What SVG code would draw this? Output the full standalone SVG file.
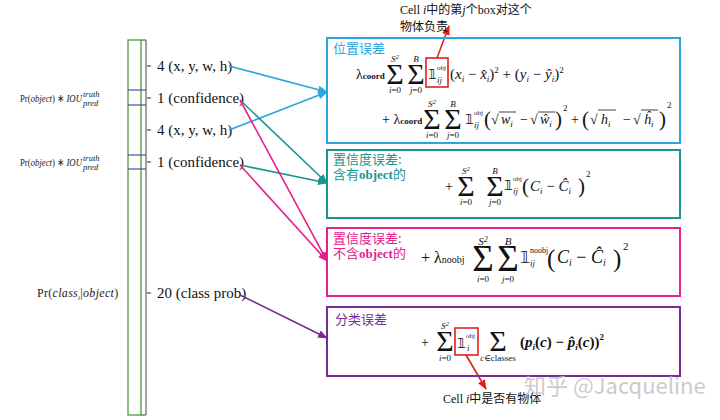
<svg xmlns="http://www.w3.org/2000/svg" width="720" height="420" viewBox="0 0 720 420">
<defs>
<marker id="mc" markerWidth="10" markerHeight="8" refX="9" refY="4" orient="auto" markerUnits="userSpaceOnUse"><path d="M0,0 L10,4 L0,8 Z" fill="#2aa6dc"/></marker>
<marker id="mt" markerWidth="10" markerHeight="8" refX="9" refY="4" orient="auto" markerUnits="userSpaceOnUse"><path d="M0,0 L10,4 L0,8 Z" fill="#1a9590"/></marker>
<marker id="mm" markerWidth="10" markerHeight="8" refX="9" refY="4" orient="auto" markerUnits="userSpaceOnUse"><path d="M0,0 L10,4 L0,8 Z" fill="#e5208e"/></marker>
<marker id="mp" markerWidth="10" markerHeight="8" refX="9" refY="4" orient="auto" markerUnits="userSpaceOnUse"><path d="M0,0 L10,4 L0,8 Z" fill="#7a2a94"/></marker>
<marker id="mr" markerWidth="10" markerHeight="8" refX="9" refY="4" orient="auto" markerUnits="userSpaceOnUse"><path d="M0,0 L10,4 L0,8 Z" fill="#e0201e"/></marker>
</defs>
<style>
.lbl{font-family:"Liberation Serif",serif;font-size:15px;fill:#111}
.left{font-family:"Liberation Serif",serif;font-size:11px;fill:#222}
.m{font-family:"Liberation Serif","DejaVu Serif",serif;font-size:14px;fill:#111}
.it{font-style:italic}
.sm{font-size:9px}
.xs{font-size:7px}
.sig{font-family:"Liberation Serif",serif;font-size:30px;fill:#111}
.one{font-family:"DejaVu Sans",sans-serif;font-size:14px;fill:#111}
.cjk{font-family:"Liberation Serif","Noto Sans CJK SC",serif;font-size:12px;fill:#111}
.title{font-family:"Noto Sans CJK SC",sans-serif;font-size:13px}
.box{fill:none;stroke-width:2}
.conn{fill:none;stroke-width:1.6}
.red{fill:none;stroke:#e0201e;stroke-width:1.6}
.bar{stroke:#111;stroke-width:0.8}
</style>

<g id="column">
<rect x="128" y="40" width="13" height="375" fill="none" stroke="#4f9a3a" stroke-width="1.3"/>
<polyline points="141,40 146,40 146,415 141,415" fill="none" stroke="#444" stroke-width="1"/>
<line x1="128" y1="90" x2="146" y2="90" stroke="#3a4fb0" stroke-width="1.2"/>
<line x1="128" y1="105" x2="146" y2="105" stroke="#3a4fb0" stroke-width="1.2"/>
<line x1="128" y1="155" x2="146" y2="155" stroke="#3a4fb0" stroke-width="1.2"/>
<line x1="128" y1="169" x2="146" y2="169" stroke="#3a4fb0" stroke-width="1.2"/>
<g stroke="#222" stroke-width="1">
<line x1="147" y1="66" x2="151" y2="66"/><line x1="147" y1="98" x2="151" y2="98"/><line x1="147" y1="130" x2="151" y2="130"/><line x1="147" y1="162" x2="151" y2="162"/><line x1="147" y1="293" x2="151" y2="293"/>
</g>
</g>

<g id="labels">
<text class="lbl" x="157" y="71">4 (x, y, w, h)</text>
<text class="lbl" x="157" y="103">1 (confidence)</text>
<text class="lbl" x="157" y="135">4 (x, y, w, h)</text>
<text class="lbl" x="157" y="167">1 (confidence)</text>
<text class="lbl" x="157" y="298">20 (class prob)</text>
<text class="left" x="20" y="102" textLength="62" lengthAdjust="spacingAndGlyphs">Pr(<tspan class="it">object</tspan>) ∗ <tspan class="it">IOU</tspan></text>
<text class="left it" x="83" y="97" style="font-size:8.5px">truth</text>
<text class="left it" x="83" y="106" style="font-size:8.5px">pred</text>
<text class="left" x="20" y="166" textLength="62" lengthAdjust="spacingAndGlyphs">Pr(<tspan class="it">object</tspan>) ∗ <tspan class="it">IOU</tspan></text>
<text class="left it" x="83" y="161" style="font-size:8.5px">truth</text>
<text class="left it" x="83" y="170" style="font-size:8.5px">pred</text>
<text class="left" x="37" y="297" style="font-size:12px" letter-spacing="0.3">Pr(<tspan class="it">class</tspan><tspan class="it" font-size="7" dy="3">i</tspan><tspan dy="-3">|</tspan><tspan class="it">object</tspan>)</text>
</g>

<g id="connectors">
<line class="conn" stroke="#2aa6dc" x1="229" y1="66" x2="327" y2="92" marker-end="url(#mc)"/>
<line class="conn" stroke="#2aa6dc" x1="229" y1="130" x2="327" y2="92" marker-end="url(#mc)"/>
<line class="conn" stroke="#1a9590" x1="240" y1="100" x2="327" y2="183" marker-end="url(#mt)"/>
<line class="conn" stroke="#1a9590" x1="240" y1="165" x2="327" y2="183" marker-end="url(#mt)"/>
<line class="conn" stroke="#e5208e" x1="240" y1="100" x2="327" y2="261" marker-end="url(#mm)"/>
<line class="conn" stroke="#e5208e" x1="240" y1="165" x2="327" y2="261" marker-end="url(#mm)"/>
<line class="conn" stroke="#7a2a94" x1="240" y1="295" x2="327" y2="338" marker-end="url(#mp)"/>
<line class="red" x1="437" y1="58" x2="449" y2="26" marker-end="url(#mr)"/>
<line class="red" x1="466" y1="355" x2="486" y2="389" marker-end="url(#mr)"/>
</g>

<g id="box-location">
<rect class="box" x="327" y="38" width="353" height="105" stroke="#2aa6dc"/>
<text class="title" x="333" y="53" fill="#2aa6dc">位置误差</text>
<text class="m" x="356" y="79">λ<tspan style="font-size:9px;font-weight:bold">coord</tspan></text>
<text class="sig" x="395" y="84" text-anchor="middle">Σ</text>
<text class="sig" x="416" y="84" text-anchor="middle">Σ</text>
<text class="m it sm" x="395" y="62" text-anchor="middle">S<tspan style="font-size:7px" dy="-3">2</tspan></text>
<text class="m it sm" x="416" y="62" text-anchor="middle">B</text>
<text class="m sm" x="395" y="93" text-anchor="middle"><tspan class="it">i</tspan>=0</text>
<text class="m sm" x="416" y="93" text-anchor="middle"><tspan class="it">j</tspan>=0</text>
<rect class="red" x="426" y="58" width="22" height="29"/>
<text class="one" x="428" y="79">𝟙</text>
<text class="m xs" x="437" y="70">obj</text>
<text class="m it sm" x="437" y="83">ij</text>
<text class="m" x="450" y="79" style="font-size:15px">(<tspan class="it">x</tspan><tspan class="sm it" dy="3">i</tspan><tspan dy="-3"> − </tspan><tspan class="it">x̂</tspan><tspan class="sm it" dy="3">i</tspan><tspan dy="-3">)</tspan><tspan class="sm" dy="-6">2</tspan><tspan dy="6"> + (</tspan><tspan class="it">y</tspan><tspan class="sm it" dy="3">i</tspan><tspan dy="-3"> − </tspan><tspan class="it">ŷ</tspan><tspan class="sm it" dy="3">i</tspan><tspan dy="-3">)</tspan><tspan class="sm" dy="-6">2</tspan></text>

<text class="m" x="382" y="124">+ λ<tspan style="font-size:9px;font-weight:bold">coord</tspan></text>
<text class="sig" x="432" y="129" text-anchor="middle">Σ</text>
<text class="sig" x="453" y="129" text-anchor="middle">Σ</text>
<text class="m it sm" x="432" y="107" text-anchor="middle">S<tspan style="font-size:7px" dy="-3">2</tspan></text>
<text class="m it sm" x="453" y="107" text-anchor="middle">B</text>
<text class="m sm" x="432" y="138" text-anchor="middle"><tspan class="it">i</tspan>=0</text>
<text class="m sm" x="453" y="138" text-anchor="middle"><tspan class="it">j</tspan>=0</text>
<text class="one" x="465" y="124">𝟙</text>
<text class="m xs" x="474" y="115">obj</text>
<text class="m it sm" x="474" y="128">ij</text>
<text class="m" x="484" y="126" style="font-size:21px">(</text>
<text class="m" x="491" y="124">√</text>
<line class="bar" x1="499" y1="112" x2="516" y2="112"/>
<text class="m it" x="501" y="124">w<tspan class="sm" dy="3">i</tspan></text>
<text class="m" x="520" y="124">−</text>
<text class="m" x="530" y="124">√</text>
<line class="bar" x1="538" y1="112" x2="555" y2="112"/>
<text class="m it" x="540" y="124">ŵ<tspan class="sm" dy="3">i</tspan></text>
<text class="m" x="555" y="126" style="font-size:21px">)</text>
<text class="m sm" x="563" y="111">2</text>
<text class="m" x="571" y="124">+</text>
<text class="m" x="582" y="126" style="font-size:21px">(</text>
<text class="m" x="590" y="124">√</text>
<line class="bar" x1="598" y1="110" x2="616" y2="110"/>
<text class="m it" x="601" y="124">h<tspan class="sm" dy="3">i</tspan></text>
<text class="m" x="623" y="124">−</text>
<text class="m" x="633" y="124">√</text>
<line class="bar" x1="641" y1="110" x2="658" y2="110"/>
<text class="m it" x="644" y="124">ĥ<tspan class="sm" dy="3">i</tspan></text>
<text class="m" x="659" y="126" style="font-size:21px">)</text>
<text class="m sm" x="667" y="108">2</text>
</g>

<g id="box-conf-obj">
<rect class="box" x="327" y="150" width="353" height="68" stroke="#1a9590"/>
<text class="title" x="333" y="164" fill="#1a9590">置信度误差:</text>
<text class="title" x="333" y="179" fill="#1a9590">含有<tspan style="font-family:'Liberation Serif',serif;font-weight:bold">object</tspan>的</text>
<text class="m" x="445" y="191">+</text>
<text class="sig" x="466" y="196" text-anchor="middle">Σ</text>
<text class="sig" x="495" y="196" text-anchor="middle">Σ</text>
<text class="m it sm" x="466" y="174" text-anchor="middle">S<tspan style="font-size:7px" dy="-3">2</tspan></text>
<text class="m it sm" x="495" y="174" text-anchor="middle">B</text>
<text class="m sm" x="466" y="205" text-anchor="middle"><tspan class="it">i</tspan>=0</text>
<text class="m sm" x="495" y="205" text-anchor="middle"><tspan class="it">j</tspan>=0</text>
<text class="one" x="504" y="190">𝟙</text>
<text class="m xs" x="513" y="181">obj</text>
<text class="m it sm" x="513" y="194">ij</text>
<text class="m" x="522" y="193" style="font-size:21px">(</text>
<text class="m" x="530" y="191" style="font-size:15px"><tspan class="it">C</tspan><tspan class="sm it" dy="3">i</tspan><tspan dy="-3"> − </tspan><tspan class="it">Ĉ</tspan><tspan class="sm it" dy="3">i</tspan></text>
<text class="m" x="578" y="193" style="font-size:21px">)</text>
<text class="m sm" x="586" y="177">2</text>
</g>

<g id="box-conf-noobj">
<rect class="box" x="327" y="228" width="353" height="68" stroke="#e5208e"/>
<text class="title" x="333" y="243" fill="#e5208e">置信度误差:</text>
<text class="title" x="333" y="258" fill="#e5208e">不含<tspan style="font-family:'Liberation Serif',serif;font-weight:bold">object</tspan>的</text>
<text class="m" x="421" y="263" style="font-size:16px">+ λ<tspan style="font-size:10px">noobj</tspan></text>
<text class="sig" x="483" y="271" text-anchor="middle" style="font-size:37px">Σ</text>
<text class="sig" x="508" y="271" text-anchor="middle" style="font-size:37px">Σ</text>
<text class="m it" x="483" y="245" text-anchor="middle" style="font-size:11px">S<tspan style="font-size:8px" dy="-3">2</tspan></text>
<text class="m it" x="508" y="245" text-anchor="middle" style="font-size:11px">B</text>
<text class="m sm" x="483" y="282" text-anchor="middle"><tspan class="it">i</tspan>=0</text>
<text class="m sm" x="508" y="282" text-anchor="middle"><tspan class="it">j</tspan>=0</text>
<text class="one" x="520" y="263" style="font-size:16px">𝟙</text>
<text class="m" x="530" y="253" style="font-size:8px">noobj</text>
<text class="m it sm" x="530" y="266">ij</text>
<text class="m" x="547" y="267" style="font-size:25px">(</text>
<text class="m" x="557" y="263" style="font-size:18px"><tspan class="it">C</tspan><tspan class="it" style="font-size:10px" dy="3">i</tspan><tspan dy="-3"> − </tspan><tspan class="it">Ĉ</tspan><tspan class="it" style="font-size:10px" dy="3">i</tspan></text>
<text class="m" x="613" y="267" style="font-size:25px">)</text>
<text class="m" x="623" y="250" style="font-size:11px">2</text>
</g>

<g id="box-class">
<rect class="box" x="327" y="307" width="353" height="69" stroke="#7a2a94"/>
<text class="title" x="335" y="324" fill="#7a2a94">分类误差</text>
<text class="m" x="421" y="347">+</text>
<text class="sig" x="445" y="351" text-anchor="middle">Σ</text>
<text class="m it sm" x="445" y="329" text-anchor="middle">S<tspan style="font-size:7px" dy="-3">2</tspan></text>
<text class="m sm" x="445" y="361" text-anchor="middle"><tspan class="it">i</tspan>=0</text>
<rect class="red" x="455" y="328" width="23" height="27"/>
<text class="one" x="457" y="348">𝟙</text>
<text class="m xs" x="466" y="338">obj</text>
<text class="m it sm" x="467" y="351">i</text>
<text class="sig" x="498" y="351" text-anchor="middle">Σ</text>
<text class="m" x="498" y="361" text-anchor="middle" style="font-size:9px"><tspan class="it">c</tspan>∈classes</text>
<text class="m" x="520" y="347" style="font-size:15px;font-weight:bold">(<tspan class="it">p</tspan><tspan class="sm it" dy="3">i</tspan><tspan dy="-3">(</tspan><tspan class="it">c</tspan>) − <tspan class="it">p̂</tspan><tspan class="sm it" dy="3">i</tspan><tspan dy="-3">(</tspan><tspan class="it">c</tspan>))<tspan class="sm" dy="-7">2</tspan></text>
</g>

<g id="notes">
<text class="cjk" x="400" y="14">Cell <tspan class="it">i</tspan>中的第<tspan class="it">j</tspan>个box对这个</text>
<text class="cjk" x="400" y="31">物体负责</text>
<text class="cjk" x="443" y="403">Cell <tspan class="it">i</tspan>中是否有物体</text>
<text x="524" y="394" font-family="Noto Sans CJK SC, Noto Sans, sans-serif" font-size="22" fill="#c4c4c4" fill-opacity="0.9">知乎 @Jacqueline</text>
</g>
</svg>
